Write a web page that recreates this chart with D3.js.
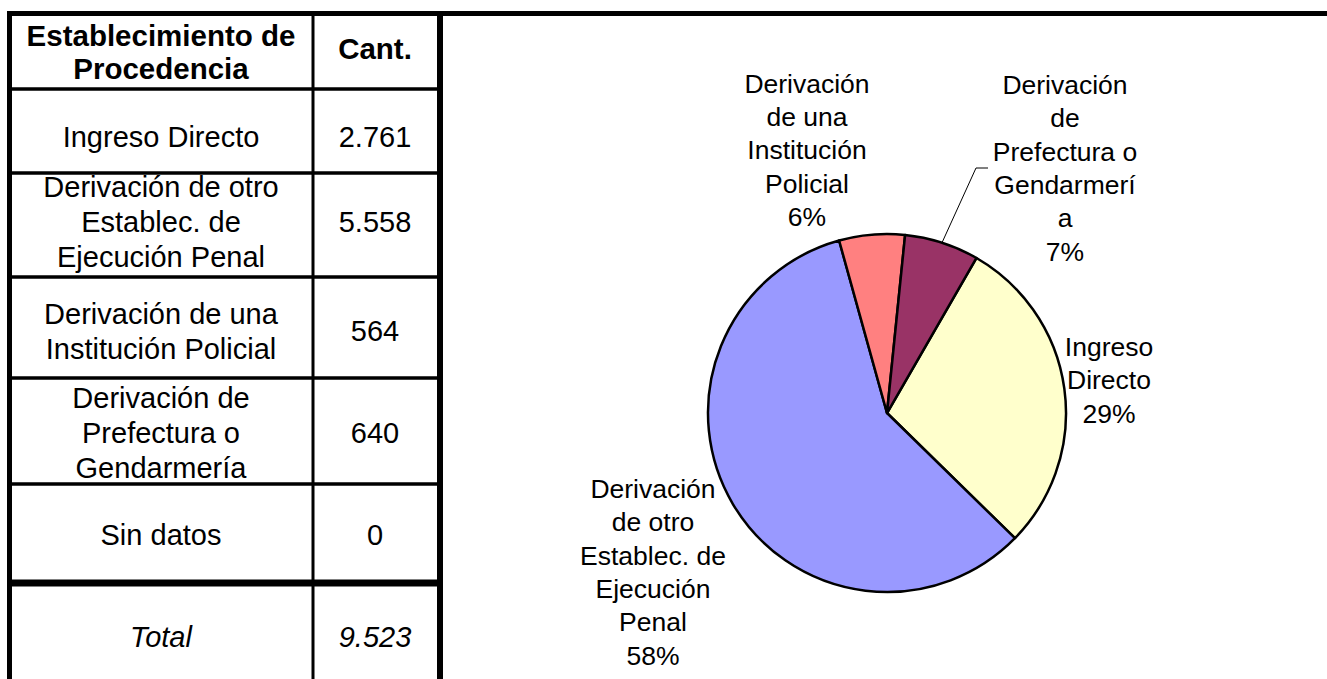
<!DOCTYPE html>
<html>
<head>
<meta charset="utf-8">
<script src="https://cdn.jsdelivr.net/npm/d3@7"></script>
<style>
  html, body { margin: 0; padding: 0; background: #fff; }
  svg { display: block; }
  text { font-family: "Liberation Sans", Arial, sans-serif; fill: #000; }
</style>
</head>
<body>
<svg id="chart" width="1327" height="679"></svg>
<script>
// ---------- DATA ----------
const headerLabel = ["Establecimiento de", "Procedencia"];
const headerCount = "Cant.";
const categories = [
  "Ingreso Directo",
  "Derivación de otro Establec. de Ejecución Penal",
  "Derivación de una Institución Policial",
  "Derivación de Prefectura o Gendarmería",
  "Sin datos"
];
const tableLines = [
  ["Ingreso Directo"],
  ["Derivación de otro", "Establec. de", "Ejecución Penal"],
  ["Derivación de una", "Institución Policial"],
  ["Derivación de", "Prefectura o", "Gendarmería"],
  ["Sin datos"]
];
const counts = [2761, 5558, 564, 640, 0];
const countLabels = ["2.761", "5.558", "564", "640", "0"];
const totalLabel = "Total";
const totalValue = "9.523";
const pieLabelLines = [
  ["Ingreso", "Directo"],
  ["Derivación", "de otro", "Establec. de", "Ejecución", "Penal"],
  ["Derivación", "de una", "Institución", "Policial"],
  ["Derivación", "de", "Prefectura o", "Gendarmerí", "a"],
  []
];
const sliceColors = ["#FFFFCC", "#9999FF", "#FF8080", "#993366", "#CCFFFF"];

// ---------- LAYOUT ----------
const W = 1327, H = 679;
const tbl = { left: 9.5, colDiv: 313, right: 440, top: 13.5 };
const rowLines = [89, 173, 277, 378, 484];     // thin separators
const totalLine = 583;                          // thick separator
const rowTextY = [137, 222, 331, 433, 535];
const headerTextY = 52, totalTextY = 637;
const tFont = 29, tLine = 35;
const pie = { cx: 887, cy: 413, r: 179, startDeg: 30 };
const pFont = 26.5, pLine = 33.3;
// label centres relative to pie centre (layout offsets)
const labelOffsets = [[222, -33], [-234, 159], [-80, -263], [178, -245], [0, 0]];

const svg = d3.select("#chart");
svg.append("rect").attr("width", W).attr("height", H).attr("fill", "#fff");

// ---------- TABLE ----------
const g = svg.append("g");
function multiText(parent, lines, x, cy, size, lh, opts = {}) {
  const t = parent.append("text")
    .attr("text-anchor", "middle")
    .attr("font-size", size)
    .attr("font-weight", opts.bold ? "bold" : null)
    .attr("font-style", opts.italic ? "italic" : null);
  const n = lines.length;
  lines.forEach((s, i) => {
    t.append("tspan").attr("x", x)
      .attr("y", cy + (i - (n - 1) / 2) * lh)
      .attr("dy", "0.35em").text(s);
  });
  return t;
}
const labelX = 161;
const countX = 375;

multiText(g, headerLabel, labelX, headerTextY, 29.5, 33, { bold: true });
multiText(g, [headerCount], countX, headerTextY - 3, 29.5, tLine, { bold: true });

tableLines.forEach((lines, i) => {
  multiText(g, lines, labelX, rowTextY[i], tFont, tLine);
  multiText(g, [countLabels[i]], countX, rowTextY[i], tFont, tLine);
});
multiText(g, [totalLabel], labelX, totalTextY, tFont, tLine, { italic: true });
multiText(g, [totalValue], countX, totalTextY, tFont, tLine, { italic: true });

// grid lines
rowLines.forEach(y => {
  g.append("line").attr("x1", tbl.left).attr("x2", tbl.right)
    .attr("y1", y).attr("y2", y).attr("stroke", "#000").attr("stroke-width", 3.5);
});
g.append("line").attr("x1", tbl.left).attr("x2", tbl.right)
  .attr("y1", totalLine).attr("y2", totalLine).attr("stroke", "#000").attr("stroke-width", 7);
g.append("line").attr("x1", tbl.colDiv).attr("x2", tbl.colDiv)
  .attr("y1", tbl.top).attr("y2", H).attr("stroke", "#000").attr("stroke-width", 3);
g.append("line").attr("x1", tbl.left).attr("x2", tbl.left)
  .attr("y1", tbl.top - 2.5).attr("y2", H).attr("stroke", "#000").attr("stroke-width", 5);
g.append("line").attr("x1", tbl.right).attr("x2", tbl.right)
  .attr("y1", tbl.top - 2.5).attr("y2", H).attr("stroke", "#000").attr("stroke-width", 6);
g.append("line").attr("x1", tbl.left - 2.5).attr("x2", W)
  .attr("y1", tbl.top).attr("y2", tbl.top).attr("stroke", "#000").attr("stroke-width", 5);

// ---------- PIE ----------
const total = d3.sum(counts);
const pieGen = d3.pie().sort(null).value(d => d)
  .startAngle(pie.startDeg * Math.PI / 180)
  .endAngle(pie.startDeg * Math.PI / 180 + 2 * Math.PI);
const arcs = pieGen(counts);
const arcGen = d3.arc().innerRadius(0).outerRadius(pie.r);
const pg = svg.append("g").attr("transform", `translate(${pie.cx},${pie.cy})`);
pg.selectAll("path").data(arcs.filter(a => a.value > 0)).join("path")
  .attr("d", arcGen)
  .attr("fill", d => sliceColors[d.index])
  .attr("stroke", "#000").attr("stroke-width", 2.5).attr("stroke-linejoin", "round");

const pct = d3.format(".0%");
arcs.forEach((a, i) => {
  if (a.value <= 0) return;
  const lines = pieLabelLines[i].concat([pct(a.value / total)]);
  const [ox, oy] = labelOffsets[i];
  multiText(pg, lines, ox, oy, pFont, pLine);
});

// leader line for the Prefectura slice
(function () {
  const a = arcs[3];
  const mid = (a.startAngle + a.endAngle) / 2;
  const sx = pie.r * Math.sin(mid), sy = -pie.r * Math.cos(mid);
  const [ox, oy] = labelOffsets[3];
  const ey = oy;
  const ex = ox - 89;
  pg.append("polyline")
    .attr("points", `${sx},${sy} ${ex},${ey} ${ex + 12},${ey}`)
    .attr("fill", "none").attr("stroke", "#000").attr("stroke-width", 1);
})();
</script>
</body>
</html>
